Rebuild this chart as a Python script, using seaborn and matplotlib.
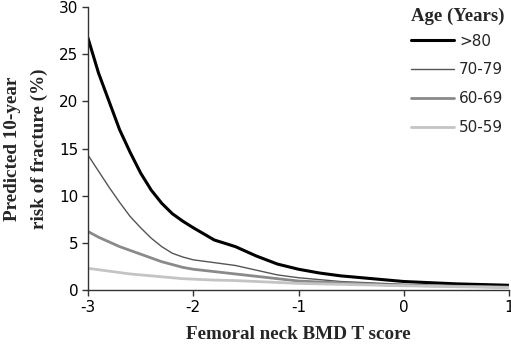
import pandas as pd
import matplotlib
matplotlib.use("Agg")
import matplotlib.pyplot as plt
import seaborn as sns

# T score positions where the curves were read
t_score = [-3.0, -2.9, -2.8, -2.7, -2.6, -2.5, -2.4, -2.3, -2.2, -2.1, -2.0,
           -1.8, -1.6, -1.4, -1.2, -1.0, -0.8, -0.6, -0.4, -0.2, 0.0, 0.5, 1.0]

risk_80plus = [26.7, 23.0, 20.0, 17.0, 14.6, 12.4, 10.6, 9.2, 8.1, 7.3, 6.6,
               5.3, 4.6, 3.6, 2.75, 2.2, 1.8, 1.5, 1.3, 1.1, 0.9, 0.65, 0.5]
risk_70_79 = [14.3, 12.6, 10.9, 9.3, 7.8, 6.6, 5.5, 4.6, 3.9, 3.5, 3.2,
              2.9, 2.6, 2.1, 1.6, 1.3, 1.1, 0.9, 0.8, 0.7, 0.6, 0.45, 0.35]
risk_60_69 = [6.2, 5.6, 5.1, 4.6, 4.2, 3.8, 3.4, 3.0, 2.7, 2.4, 2.2,
              1.95, 1.7, 1.45, 1.2, 0.95, 0.85, 0.75, 0.65, 0.55, 0.5, 0.4, 0.3]
risk_50_59 = [2.3, 2.15, 2.0, 1.85, 1.7, 1.6, 1.5, 1.4, 1.3, 1.2, 1.15,
              1.05, 1.0, 0.9, 0.8, 0.7, 0.65, 0.6, 0.55, 0.5, 0.45, 0.35, 0.25]

age_groups = [">80", "70-79", "60-69", "50-59"]

frames = []
for age, vals in zip(age_groups, [risk_80plus, risk_70_79, risk_60_69, risk_50_59]):
    frames.append(pd.DataFrame({"t": t_score, "risk": vals, "age": age}))
df = pd.concat(frames, ignore_index=True)

sns.set_style("ticks")
plt.rcParams["font.family"] = ["DejaVu Sans"]
plt.rcParams["axes.unicode_minus"] = False

colors = {">80": "#000000", "70-79": "#555555", "60-69": "#8a8a8a", "50-59": "#c4c4c4"}
widths = {">80": 2.2, "70-79": 1.0, "60-69": 2.0, "50-59": 2.0}

fig = plt.figure(figsize=(5.11, 3.44), dpi=100)
ax = fig.add_axes([88 / 511, 1 - 290 / 344, (509 - 88) / 511, (290 - 7) / 344])

for age in age_groups:
    sns.lineplot(data=df[df["age"] == age], x="t", y="risk", ax=ax,
                 color=colors[age], lw=widths[age], label=age)

ax.set_xlim(-3, 1)
ax.set_ylim(0, 30)
ax.set_xticks([-3, -2, -1, 0, 1])
ax.set_yticks([0, 5, 10, 15, 20, 25, 30])
sns.despine(ax=ax)
for s in ["left", "bottom"]:
    ax.spines[s].set_color("#333333")
    ax.spines[s].set_linewidth(1.0)
ax.tick_params(direction="out", length=4, width=1, colors="#333333",
               labelcolor="black", labelsize=11, pad=3)

serif_bold = dict(family="Liberation Serif", fontweight="bold", fontsize=13.8)
ax.set_xlabel("Femoral neck BMD T score", labelpad=8, **serif_bold)
ax.set_ylabel("Predicted 10-year\nrisk of fracture (%)", labelpad=8,
              linespacing=1.75, **serif_bold)

leg = ax.legend(loc="upper left", bbox_to_anchor=(411 / 511, 1 - 8 / 344),
                bbox_transform=fig.transFigure, frameon=False,
                title="Age (Years)", fontsize=11, handlelength=2.8,
                handletextpad=0.35, labelspacing=0.9, borderaxespad=0,
                borderpad=0)
leg.get_title().set_fontfamily("Liberation Serif")
leg.get_title().set_fontweight("bold")
leg.get_title().set_fontsize(13.5)
leg._legend_box.align = "left"
leg._legend_box.sep = 6

fig.savefig("out.png", dpi=100)
